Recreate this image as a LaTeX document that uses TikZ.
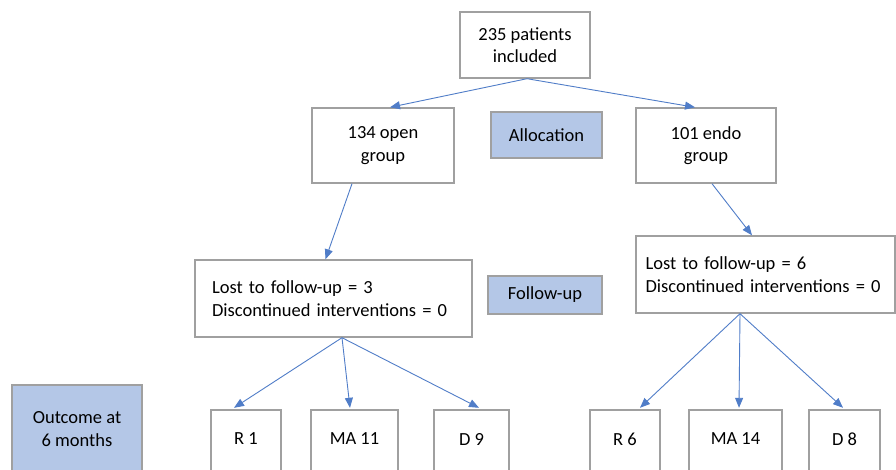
\documentclass[tikz,border=0pt]{standalone}
\usepackage{fontspec}
\setmainfont{Carlito}
\usetikzlibrary{arrows.meta}
\definecolor{boxline}{RGB}{160,160,160}
\definecolor{arrowblue}{RGB}{80,125,200}
\definecolor{labelfill}{RGB}{180,199,231}
\begin{document}
\begin{tikzpicture}[x=1pt,y=-1pt,
  every node/.style={font=\fontsize{18.5}{22.5}\selectfont, inner sep=0pt},
  wbox/.style={draw=boxline, line width=1.4pt, fill=white, align=center},
  lbox/.style={draw=boxline, line width=1.4pt, fill=labelfill, align=center},
  fubox/.style={draw=boxline, line width=1.4pt, fill=white, align=left},
  conn/.style={draw=arrowblue, line width=0.9pt, -{Triangle[length=10pt,width=8pt]}}
]
\useasboundingbox (0,0) rectangle (896,470);
\clip (0,0) rectangle (896,470);
\fill[white] (0,0) rectangle (896,470);

\node[wbox, minimum width=130pt, minimum height=66pt] (top) at (525,45) {235 patients\\included};
\node[wbox, minimum width=142pt, minimum height=75pt] (open) at (383,145.5) {134 open\\group};
\node[lbox, minimum width=111pt, minimum height=46pt] (alloc) at (546.5,135) {Allocation};
\node[wbox, minimum width=140pt, minimum height=75pt] (endo) at (706,145.5) {101 endo\\group};

\node[fubox, text width=243pt, inner xsep=17pt, minimum height=77pt] (lfu) at (333.5,298.5) {Lost to follow-up = 3\\Discontinued interventions = 0};
\node[lbox, minimum width=114pt, minimum height=38pt] (fu) at (545,295) {Follow-up};
\node[fubox, text width=240pt, inner xsep=9.5pt, minimum height=77pt] (rfu) at (765.5,274.5) {Lost to follow-up = 6\\Discontinued interventions = 0};

\node[lbox, minimum width=130pt, minimum height=100pt] (outc) at (77,435) {};
\node[align=center] (outct) at (77,429) {Outcome at\\6 months};

\node[wbox, minimum width=70pt, minimum height=80pt] (r1) at (246,450) {};
\node[wbox, minimum width=87pt, minimum height=80pt] (ma11) at (354.5,450) {};
\node[wbox, minimum width=75pt, minimum height=80pt] (d9) at (471.5,450) {};
\node[wbox, minimum width=70pt, minimum height=80pt] (r6) at (625,450) {};
\node[wbox, minimum width=93pt, minimum height=80pt] (ma14) at (735.5,450) {};
\node[wbox, minimum width=71pt, minimum height=80pt] (d8) at (844.5,450) {};

\node (r1t) at (246,439) {R 1};
\node (ma11t) at (354.5,439) {MA 11};
\node (d9t) at (471.5,439) {D 9};
\node (r6t) at (625,439) {R 6};
\node (ma14t) at (735.5,439) {MA 14};
\node (d8t) at (844.5,439) {D 8};

\draw[conn] ([xshift=2pt]top.south) -- ([xshift=7pt]open.north);
\draw[conn] ([xshift=2pt]top.south) -- ([xshift=-11pt]endo.north);
\draw[conn] ([xshift=-31pt]open.south) -- ([xshift=-8pt]lfu.north);
\draw[conn] ([xshift=6pt]endo.south) -- ([xshift=-13.5pt]rfu.north);

\draw[conn] ([xshift=8.5pt]lfu.south) -- ([xshift=-12pt,yshift=1.5pt]r1.north);
\draw[conn] ([xshift=8.5pt]lfu.south) -- ([xshift=-4.5pt,yshift=1.5pt]ma11.north);
\draw[conn] ([xshift=8.5pt]lfu.south) -- ([xshift=7.5pt,yshift=1.5pt]d9.north);
\draw[conn] ([xshift=-25.5pt]rfu.south) -- ([xshift=15pt,yshift=1.5pt]r6.north);
\draw[conn] ([xshift=-25.5pt]rfu.south) -- ([xshift=3.5pt,yshift=1.5pt]ma14.north);
\draw[conn] ([xshift=-25.5pt]rfu.south) -- ([xshift=-1.5pt,yshift=1.5pt]d8.north);
\end{tikzpicture}
\end{document}
